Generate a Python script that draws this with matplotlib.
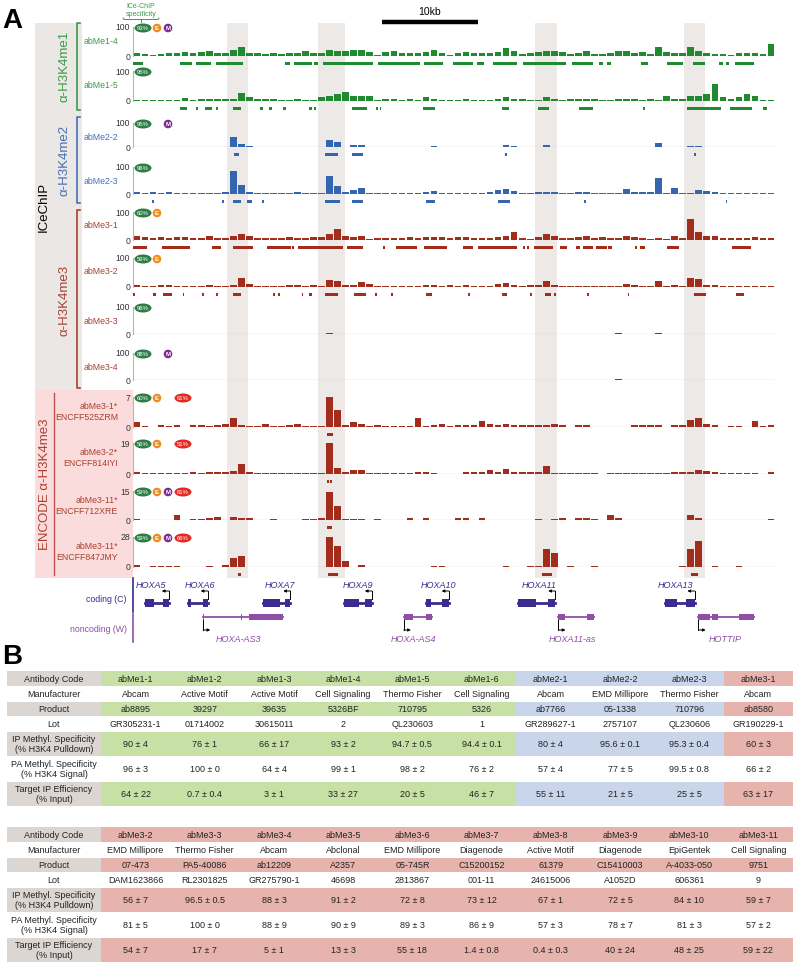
import numpy as np
import matplotlib
matplotlib.use('Agg')
import matplotlib.pyplot as plt
from matplotlib.patches import Rectangle, Ellipse, Circle

plt.rcParams['font.family'] = ['Liberation Sans', 'DejaVu Sans']

# ----------------------------------------------------------------- DATA
REGION_KB = 66.875          # width of the HOXA window shown (kb)
N_BINS = 80                 # signal bins across the window

track_names = ['abMe1-4', 'abMe1-5', 'abMe2-2', 'abMe2-3', 'abMe3-1', 'abMe3-2',
               'abMe3-3', 'abMe3-4', 'abMe3-1*\nENCFF525ZRM', 'abMe3-2*\nENCFF814IYI',
               'abMe3-11*\nENCFF712XRE', 'abMe3-11*\nENCFF847JMY']
track_max = [100, 100, 100, 100, 100, 100, 100, 100, 7, 19, 15, 28]
badge_spec = ['93%', '95%', '95%', '96%', '60%', '56%', '96%', '88%', '60%', '56%', '59%', '59%']
badge_E = [1, 0, 0, 0, 1, 1, 0, 0, 1, 1, 1, 1]
badge_M = [1, 0, 1, 0, 0, 0, 0, 1, 0, 0, 1, 1]
badge_enc = [None] * 8 + ['61%', '51%', '61%', '66%']

sig_abMe1_4 = [10, 8, 5, 8, 10, 12, 14, 10, 14, 16,
               12, 12, 22, 30, 12, 10, 8, 10, 8, 10,
               12, 16, 12, 12, 20, 18, 16, 20, 22, 14,
               4, 14, 16, 12, 10, 12, 14, 20, 10, 4,
               12, 14, 10, 12, 10, 14, 26, 18, 6, 10,
               14, 16, 18, 14, 8, 12, 18, 8, 8, 10,
               16, 18, 12, 14, 8, 30, 14, 12, 10, 30,
               16, 10, 6, 8, 4, 10, 10, 10, 8, 42]
sig_abMe1_5 = [4, 4, 4, 3, 3, 4, 10, 2, 6, 8,
               8, 6, 8, 28, 12, 6, 5, 6, 4, 3,
               6, 4, 3, 12, 16, 22, 30, 18, 18, 16,
               3, 6, 8, 4, 8, 4, 12, 8, 4, 4,
               3, 6, 3, 3, 4, 6, 12, 8, 8, 4,
               4, 14, 6, 3, 6, 6, 6, 6, 4, 4,
               6, 8, 6, 3, 6, 3, 16, 8, 6, 18,
               18, 22, 55, 14, 6, 12, 22, 16, 3, 4]
sig_abMe2_2 = [2, 2, 0, 0, 0, 0, 0, 0, 0, 0,
               0, 0, 40, 12, 3, 0, 0, 0, 0, 0,
               0, 0, 0, 0, 30, 22, 0, 8, 8, 0,
               0, 2, 0, 0, 0, 0, 0, 5, 0, 0,
               0, 2, 0, 0, 0, 0, 8, 4, 0, 2,
               0, 10, 0, 0, 0, 0, 2, 0, 0, 0,
               0, 2, 2, 0, 0, 18, 0, 2, 0, 6,
               4, 2, 2, 0, 0, 0, 0, 0, 0, 0]
sig_abMe2_3 = [6, 4, 6, 2, 8, 4, 4, 4, 4, 4,
               4, 8, 85, 35, 8, 4, 4, 3, 4, 4,
               6, 4, 3, 4, 68, 30, 6, 14, 22, 4,
               4, 4, 3, 4, 4, 4, 8, 12, 4, 4,
               3, 3, 4, 4, 6, 14, 20, 10, 4, 3,
               6, 8, 6, 4, 2, 6, 6, 4, 3, 2,
               4, 18, 6, 6, 6, 60, 4, 22, 4, 3,
               14, 10, 6, 4, 3, 3, 3, 3, 3, 3]
sig_abMe3_1 = [14, 10, 8, 10, 8, 10, 10, 8, 6, 14,
               6, 8, 16, 22, 14, 6, 6, 8, 8, 10,
               8, 8, 10, 10, 22, 38, 16, 12, 14, 4,
               6, 6, 8, 8, 10, 8, 10, 12, 10, 8,
               10, 10, 8, 8, 8, 12, 14, 30, 6, 4,
               10, 20, 16, 8, 6, 10, 16, 6, 12, 8,
               8, 14, 10, 6, 4, 6, 4, 14, 6, 76,
               30, 16, 14, 8, 6, 8, 8, 10, 6, 8]
sig_abMe3_2 = [6, 4, 4, 8, 6, 4, 2, 4, 4, 8,
               4, 4, 8, 30, 10, 4, 4, 4, 4, 6,
               6, 4, 6, 4, 24, 20, 6, 8, 18, 10,
               4, 4, 4, 4, 3, 4, 8, 8, 4, 8,
               4, 6, 3, 2, 4, 10, 14, 8, 4, 6,
               6, 22, 8, 4, 4, 4, 4, 4, 4, 4,
               4, 10, 8, 4, 4, 20, 4, 8, 4, 32,
               26, 8, 6, 4, 4, 4, 4, 4, 4, 4]
sig_abMe3_3 = [0, 0, 0, 0, 0, 0, 0, 0, 0, 0,
               0, 0, 0, 0, 0, 0, 0, 0, 0, 0,
               0, 0, 0, 0, 3, 0, 0, 0, 0, 0,
               0, 0, 0, 0, 0, 0, 0, 0, 0, 0,
               0, 0, 0, 0, 0, 0, 0, 0, 0, 0,
               0, 0, 0, 0, 0, 0, 0, 0, 0, 0,
               2, 0, 0, 0, 0, 2, 0, 0, 0, 0,
               0, 0, 0, 0, 0, 0, 0, 0, 0, 0]
sig_abMe3_4 = [0, 0, 0, 0, 0, 0, 0, 0, 0, 0,
               0, 0, 0, 0, 0, 0, 0, 0, 0, 0,
               0, 0, 0, 0, 0, 0, 0, 0, 0, 0,
               0, 0, 0, 0, 0, 0, 0, 0, 0, 0,
               0, 0, 0, 0, 0, 0, 0, 0, 0, 0,
               0, 0, 0, 0, 0, 0, 0, 0, 0, 0,
               2, 0, 0, 0, 0, 0, 0, 0, 0, 0,
               0, 0, 0, 0, 0, 0, 0, 0, 0, 0]
sig_ENCFF525ZRM = [1.2, 0.3, 0, 0.4, 0.3, 0.4, 0, 0.4, 0.4, 0.3,
                   0.4, 0.6, 2.0, 0.4, 0.3, 0.3, 0.7, 0.3, 0.3, 0.4,
                   0.7, 0.3, 0.3, 0.3, 7.0, 3.9, 0.4, 1.1, 0.7, 0.3,
                   0.4, 0.3, 0.3, 0.3, 0.3, 2.0, 0.3, 0.4, 0.8, 0.3,
                   0.4, 0.4, 0.4, 1.4, 0.7, 0.4, 0.6, 0.4, 0.4, 0.4,
                   0.4, 0.4, 0.6, 0.4, 0, 0.4, 0.4, 0, 0, 0,
                   0.1, 0, 0.4, 0.4, 0.4, 0.4, 0, 0.4, 0.4, 1.6,
                   2.0, 0.7, 0.4, 0, 0.3, 0.3, 0, 1.3, 0.3, 0.4]
sig_ENCFF814IYI = [1.5, 0.8, 0.8, 0.8, 0.4, 0.8, 0.8, 1.1, 0.8, 1.1,
                   1.1, 1.1, 1.9, 6.1, 1.5, 0.8, 0.8, 0.8, 0.4, 0.8,
                   0.8, 0.8, 0.4, 0.8, 19.0, 3.4, 1.5, 2.3, 2.7, 0.8,
                   0.8, 0.8, 0.8, 0.8, 0.8, 1.1, 1.1, 0.8, 0, 0,
                   0, 1.1, 1.1, 1.1, 2.3, 1.5, 3.0, 1.1, 1.1, 1.1,
                   1.1, 4.6, 0.8, 0.8, 0.8, 0.8, 0.8, 0.8, 0, 0.8,
                   0.8, 0.8, 0.8, 0.8, 0.8, 0.8, 0.8, 1.1, 1.1, 1.1,
                   2.3, 1.9, 1.5, 0.8, 0.8, 0.8, 0.8, 0.8, 0, 1.1]
sig_ENCFF712XRE = [0.3, 0, 0, 0, 0, 2.4, 0, 0.6, 0.3, 0.9,
                   1.8, 0, 1.5, 0.9, 0.9, 0, 0, 0.6, 0, 0,
                   0, 0.6, 0.6, 1.2, 14.3, 7.2, 0.3, 0.6, 0.6, 0,
                   0.6, 0, 0, 0, 0.9, 0, 0.9, 0, 0, 0,
                   1.2, 1.2, 0, 1.2, 0, 0, 0, 0, 0, 0,
                   0.6, 0, 0.6, 0.9, 0, 0.9, 0.9, 0.6, 0, 2.7,
                   0.9, 0, 0, 0, 0, 0, 0, 0, 0, 2.4,
                   1.2, 0, 0, 0, 0, 0, 0, 0, 0, 0.6]
sig_ENCFF847JMY = [1.4, 0, 1.1, 1.1, 1.1, 1.1, 0, 0, 0, 1.1,
                   0, 2.2, 8.4, 9.8, 0, 0, 0, 0, 0, 0,
                   0, 0, 0, 0, 28.0, 19.6, 5.6, 0, 2.2, 0,
                   0, 0, 0, 0, 0, 0, 0, 1.1, 1.1, 0,
                   0, 0, 0, 0, 0, 0, 1.1, 0, 0, 1.1,
                   1.1, 16.8, 12.6, 0, 1.1, 0, 0, 1.1, 0, 0,
                   0, 0, 0, 0, 0, 0, 0, 0, 1.1, 16.8,
                   23.8, 0, 1.1, 0, 0, 1.1, 0, 0, 0, 0]

# called peaks (start kb, end kb)
peaks_abMe1_4 = [(0.0, 1.0), (4.9, 6.1), (6.6, 8.1), (8.6, 11.5), (15.8, 16.4), (16.8, 18.6),
                 (18.9, 19.3), (19.8, 25.0), (25.5, 29.9), (30.3, 32.3), (33.3, 35.4), (35.8, 36.6),
                 (37.5, 40.0), (40.6, 45.1), (45.7, 47.9), (48.5, 49.0), (49.4, 49.8), (52.9, 53.6),
                 (55.6, 57.3), (58.3, 59.6), (61.0, 61.5), (61.8, 62.1), (62.7, 64.7)]
peaks_abMe1_5 = [(4.9, 5.6), (6.6, 6.8), (7.5, 8.2), (8.6, 8.9), (10.4, 11.3), (13.2, 13.5),
                 (14.2, 14.5), (15.6, 15.9), (18.3, 18.6), (18.9, 19.1), (22.8, 24.4), (25.3, 25.5),
                 (25.7, 25.8), (30.2, 31.5), (38.4, 39.2), (42.2, 43.3), (46.5, 47.9), (53.1, 53.3),
                 (57.7, 61.2), (62.2, 64.5), (65.6, 66.0)]
peaks_abMe2_2 = [(10.5, 11.0), (20.0, 21.4), (22.8, 24.0), (38.8, 39.0), (58.4, 58.6)]
peaks_abMe2_3 = [(2.0, 2.2), (9.3, 9.5), (10.4, 11.3), (11.9, 12.4), (13.4, 13.6), (20.0, 21.6),
                 (22.8, 24.0), (30.5, 31.5), (38.0, 39.3), (47.0, 47.2), (61.8, 61.9)]
peaks_abMe3_1 = [(0.0, 1.5), (3.0, 5.9), (8.2, 9.2), (10.4, 12.5), (14.0, 16.5), (16.6, 16.8),
                 (17.2, 21.9), (22.3, 24.0), (26.0, 26.3), (27.4, 29.6), (30.3, 32.7), (34.4, 35.4),
                 (35.9, 40.0), (40.6, 40.8), (41.0, 41.3), (41.8, 43.8), (44.5, 45.2), (46.1, 46.6),
                 (46.9, 47.9), (48.2, 49.4), (49.5, 49.9), (52.3, 52.5), (52.8, 53.3), (55.6, 56.9),
                 (62.4, 64.4)]
peaks_abMe3_2 = [(0.0, 0.2), (2.1, 2.4), (3.1, 4.1), (5.2, 5.3), (7.2, 7.4), (8.6, 8.9),
                 (10.4, 11.3), (14.6, 14.8), (15.1, 15.3), (17.6, 17.7), (18.3, 18.6), (20.0, 21.4),
                 (23.0, 24.3), (25.2, 25.4), (26.9, 27.1), (30.5, 31.1), (34.9, 35.1), (38.4, 39.0),
                 (41.4, 41.6), (42.9, 43.5), (43.9, 44.1), (47.3, 47.5), (51.6, 51.7), (58.4, 59.7),
                 (62.8, 63.6)]
peaks_abMe3_3 = []
peaks_abMe3_4 = []
peaks_ENCFF525ZRM = [(20.2, 20.8)]
peaks_ENCFF814IYI = [(20.2, 20.4), (20.5, 20.7)]
peaks_ENCFF712XRE = [(20.2, 20.7)]
peaks_ENCFF847JMY = [(10.9, 11.2), (20.3, 21.4), (42.6, 43.6), (58.1, 58.9)]

highlight_regions = [(9.8, 12.0), (19.3, 22.1), (41.9, 44.2), (57.4, 59.6)]
scale_bar_start_kb = 25.9
scale_bar_len_kb = 10

coding_names = ['HOXA5', 'HOXA6', 'HOXA7', 'HOXA9', 'HOXA10', 'HOXA11', 'HOXA13']
coding_exons = [[(1.2, 2.2), (3.1, 3.75)], [(5.7, 6.0), (7.3, 7.8)], [(13.5, 15.3), (15.8, 16.4)],
                [(22.0, 23.5), (24.2, 24.9)], [(30.5, 31.0), (32.2, 32.9)],
                [(40.1, 42.0), (43.2, 44.0)], [(55.4, 56.7), (57.6, 58.5)]]
coding_label_kb = [1.9, 7.0, 15.3, 23.4, 31.8, 42.3, 56.5]
noncoding_names = ['HOXA-AS3', 'HOXA-AS4', 'HOXA11-as', 'HOTTIP']
noncoding_exons = [[(7.3, 7.4), (11.3, 11.4), (12.1, 15.6)], [(28.2, 29.2), (30.5, 31.1)],
                   [(44.3, 45.0), (47.3, 48.0)], [(58.9, 60.1), (60.3, 60.9), (63.1, 64.7)]]
noncoding_label_kb = [11.0, 29.2, 45.8, 61.7]

row_labels = ['Antibody Code', 'Manufacturer', 'Product', 'Lot',
              'IP Methyl. Specificity\n(% H3K4 Pulldown)',
              'PA Methyl. Specificity\n(% H3K4 Signal)',
              'Target IP Efficiency\n(% Input)']
codes1 = ['abMe1-1', 'abMe1-2', 'abMe1-3', 'abMe1-4', 'abMe1-5', 'abMe1-6',
          'abMe2-1', 'abMe2-2', 'abMe2-3', 'abMe3-1']
manuf1 = ['Abcam', 'Active Motif', 'Active Motif', 'Cell Signaling', 'Thermo Fisher',
          'Cell Signaling', 'Abcam', 'EMD Millipore', 'Thermo Fisher', 'Abcam']
product1 = ['ab8895', '39297', '39635', '5326BF', '710795', '5326', 'ab7766', '05-1338',
            '710796', 'ab8580']
lot1 = ['GR305231-1', '01714002', '30615011', '2', 'QL230603', '1', 'GR289627-1', '2757107',
        'QL230606', 'GR190229-1']
ip1 = ['90 ± 4', '76 ± 1', '66 ± 17', '93 ± 2', '94.7 ± 0.5', '94.4 ± 0.1', '80 ± 4',
       '95.6 ± 0.1', '95.3 ± 0.4', '60 ± 3']
pa1 = ['96 ± 3', '100 ± 0', '64 ± 4', '99 ± 1', '98 ± 2', '76 ± 2', '57 ± 4', '77 ± 5',
       '99.5 ± 0.8', '66 ± 2']
eff1 = ['64 ± 22', '0.7 ± 0.4', '3 ± 1', '33 ± 27', '20 ± 5', '46 ± 7', '55 ± 11', '21 ± 5',
        '25 ± 5', '63 ± 17']
codes2 = ['abMe3-2', 'abMe3-3', 'abMe3-4', 'abMe3-5', 'abMe3-6', 'abMe3-7', 'abMe3-8',
          'abMe3-9', 'abMe3-10', 'abMe3-11']
manuf2 = ['EMD Millipore', 'Thermo Fisher', 'Abcam', 'Abclonal', 'EMD Millipore', 'Diagenode',
          'Active Motif', 'Diagenode', 'EpiGentek', 'Cell Signaling']
product2 = ['07-473', 'PA5-40086', 'ab12209', 'A2357', '05-745R', 'C15200152', '61379',
            'C15410003', 'A-4033-050', '9751']
lot2 = ['DAM1623866', 'RL2301825', 'GR275790-1', '46698', '2813867', '001-11', '24615006',
        'A1052D', '606361', '9']
ip2 = ['56 ± 7', '96.5 ± 0.5', '88 ± 3', '91 ± 2', '72 ± 8', '73 ± 12', '67 ± 1', '72 ± 5',
       '84 ± 10', '59 ± 7']
pa2 = ['81 ± 5', '100 ± 0', '88 ± 9', '90 ± 9', '89 ± 3', '86 ± 9', '57 ± 3', '78 ± 7',
       '81 ± 3', '57 ± 2']
eff2 = ['54 ± 7', '17 ± 7', '5 ± 1', '13 ± 3', '55 ± 18', '1.4 ± 0.8', '0.4 ± 0.3', '40 ± 24',
        '48 ± 25', '59 ± 22']
mark1 = ['me1'] * 6 + ['me2'] * 3 + ['me3']
mark2 = ['me3'] * 10

# ----------------------------------------------------------------- STYLE / LAYOUT
W, H = 800, 971
X0, X1 = 133, 775
GREEN, BLUE, RED = '#1f8a2f', '#3466b0', '#a32d1c'
LGREEN, LBLUE, LRED = '#3a9a48', '#4470b6', '#aa4030'
CODING, NONCODING = '#3b2c8f', '#8d4fa8'
HILITE = '#ece9e7'
CELL = {'me1': '#c6e0a6', 'me2': '#c9d5eb', 'me3': '#e6b4ad'}
GRAYCELL = '#dcd6d3'

track_rows = [(27, 56), (71, 101), (123, 147), (167, 194), (212, 240), (258, 287),
              (307, 334), (353, 380), (397, 427), (443, 474), (491, 520), (537, 567)]
track_colors = [GREEN, GREEN, BLUE, BLUE, RED, RED, RED, RED, RED, RED, RED, RED]
label_colors = [LGREEN, LGREEN, LBLUE, LBLUE, LRED, LRED, LRED, LRED, LRED, LRED, LRED, LRED]

signals = [sig_abMe1_4, sig_abMe1_5, sig_abMe2_2, sig_abMe2_3, sig_abMe3_1, sig_abMe3_2,
           sig_abMe3_3, sig_abMe3_4, sig_ENCFF525ZRM, sig_ENCFF814IYI, sig_ENCFF712XRE,
           sig_ENCFF847JMY]
peaks = [peaks_abMe1_4, peaks_abMe1_5, peaks_abMe2_2, peaks_abMe2_3, peaks_abMe3_1,
         peaks_abMe3_2, peaks_abMe3_3, peaks_abMe3_4, peaks_ENCFF525ZRM, peaks_ENCFF814IYI,
         peaks_ENCFF712XRE, peaks_ENCFF847JMY]

fig = plt.figure(figsize=(W / 100, H / 100), dpi=100)


def px_axes(z):
    ax = fig.add_axes([0, 0, 1, 1], zorder=z)
    ax.set_xlim(0, W)
    ax.set_ylim(H, 0)
    ax.axis('off')
    ax.patch.set_alpha(0)
    return ax


ax_px = px_axes(0)

# genome-coordinate axes (x in kb, y in pixels)
ax_gen = fig.add_axes([X0 / W, 0, (X1 - X0) / W, 1], zorder=1)
ax_gen.set_xlim(0, REGION_KB)
ax_gen.set_ylim(H, 0)
ax_gen.axis('off')
ax_gen.patch.set_alpha(0)

ax_top = px_axes(3)

# ---- panel labels
ax_px.text(2, 21, 'A', fontsize=20, fontweight='bold', va='center', ha='left')
ax_px.text(2, 657, 'B', fontsize=20, fontweight='bold', va='center', ha='left')

# ---- left side boxes
ax_px.add_patch(Rectangle((35, 23), 47, 367, fc='#ebe7e5', ec='none'))
ax_px.add_patch(Rectangle((35, 390), X0 - 35, 188, fc='#fbdcdc', ec='none'))
ax_px.plot([54, 54], [393, 575], color='#c0504d', lw=1)
ax_px.text(44, 207, 'ICeChIP', rotation=90, fontsize=9.5, ha='center', va='center', color='black')
ax_px.text(45, 484, 'ENCODE α-H3K4me3', rotation=90, fontsize=9.5, ha='center', va='center',
           color=LRED)
for (y0, y1, col, name, yc) in [(23, 110, LGREEN, 'α-H3K4me1', 66),
                                (117, 203, LBLUE, 'α-H3K4me2', 160),
                                (210, 388, LRED, 'α-H3K4me3', 300)]:
    ax_px.plot([80, 77, 77, 80], [y0, y0, y1, y1], color=col, lw=1.2)
    ax_px.text(65, yc, name, rotation=90, fontsize=9.5, ha='center', va='center', color=col)

# ---- highlights and scale bar
for s, e in highlight_regions:
    ax_gen.add_patch(Rectangle((s, 23), e - s, 555, fc=HILITE, ec='none', zorder=0))
ax_gen.plot([scale_bar_start_kb, scale_bar_start_kb + scale_bar_len_kb], [22.5, 22.5],
            color='black', lw=3.2, solid_capstyle='butt')
ax_gen.text(scale_bar_start_kb + scale_bar_len_kb / 2, 12, '10kb', fontsize=7.5,
            ha='center', va='center')

# ---- tracks
BIN_KB = REGION_KB / N_BINS
centers = (np.arange(N_BINS) + 0.5) * BIN_KB
for i, ((yt, yb), vals, pk, ymax, col) in enumerate(
        zip(track_rows, signals, peaks, track_max, track_colors)):
    ax = fig.add_axes([X0 / W, 1 - yb / H, (X1 - X0) / W, (yb - yt) / H], zorder=2)
    ax.patch.set_alpha(0)
    ax.axhline(0, color='#c4c4c4', lw=0.9, zorder=0)
    ax.bar(centers, vals, width=BIN_KB * 0.82, color=col, linewidth=0, zorder=1)
    ax.set_xlim(0, REGION_KB)
    ax.set_ylim(0, ymax)
    for s in ['top', 'right', 'bottom']:
        ax.spines[s].set_visible(False)
    ax.spines['left'].set_color('#b5b5b5')
    ax.spines['left'].set_linewidth(0.8)
    ax.set_xticks([])
    ax.set_yticks([0, ymax])
    ax.set_yticklabels(['0', str(ymax)])
    ax.tick_params(axis='y', length=0, labelsize=6.2, pad=2, labelcolor='#333333')
    u = ymax / (yb - yt)
    if pk:
        ax.broken_barh([(s, e - s) for s, e in pk], (-8.8 * u, 3.2 * u), facecolors=col,
                       clip_on=False)

    # track name
    name = track_names[i]
    if '\n' in name:
        ax_px.text(118, yt + 15, name, fontsize=6.3, ha='right', va='center',
                   color=label_colors[i], linespacing=1.35)
    else:
        ax_px.text(84, yt + 14, name, fontsize=6.3, ha='left', va='center',
                   color=label_colors[i])

    # badges
    yc = yt + 1
    ax_top.add_patch(Ellipse((143, yc), 17, 9, fc='#2e7d46', ec='none'))
    ax_top.text(143, yc + 0.3, badge_spec[i], fontsize=4.3, color='white', ha='center',
                va='center')
    if badge_E[i]:
        ax_top.add_patch(Circle((157, yc), 4.3, fc='#f08c1e', ec='none'))
        ax_top.text(157, yc + 0.3, 'E', fontsize=4.3, color='white', ha='center', va='center',
                    fontweight='bold')
    if badge_M[i]:
        ax_top.add_patch(Circle((168, yc), 4.3, fc='#7a2d8c', ec='none'))
        ax_top.text(168, yc + 0.3, 'M', fontsize=4.3, color='white', ha='center', va='center',
                    fontweight='bold')
    if badge_enc[i]:
        ax_top.add_patch(Ellipse((183, yc), 17, 9, fc='#e42a23', ec='none'))
        ax_top.text(183, yc + 0.3, badge_enc[i], fontsize=4.3, color='white', ha='center',
                    va='center')

# ICe-ChIP specificity annotation
ax_top.text(141, 6, 'ICe-ChIP', fontsize=5, color=LGREEN, ha='center', va='center')
ax_top.text(141, 14, 'specificity', fontsize=5, color=LGREEN, ha='center', va='center')
ax_top.plot([123, 124, 158, 159], [18, 19.5, 19.5, 18], color=LGREEN, lw=0.7)
ax_top.plot([141, 141], [19.5, 22], color=LGREEN, lw=0.7)

# ---- gene annotations
ax_px.plot([X0, X0], [578, 612], color=CODING, lw=1.2)
ax_px.plot([X0, X0], [614, 642], color=NONCODING, lw=1.2)
ax_px.text(127, 600, 'coding (C)', fontsize=6.3, color=CODING, ha='right', va='center')
ax_px.text(127, 630, 'noncoding (W)', fontsize=6.3, color=NONCODING, ha='right', va='center')

Y_COD, Y_NC = 603, 617
for name, exons, lx in zip(coding_names, coding_exons, coding_label_kb):
    s0, e1 = exons[0][0], exons[-1][1]
    ax_gen.plot([s0, e1], [Y_COD, Y_COD], color=CODING, lw=2)
    for s, e in exons:
        ax_gen.add_patch(Rectangle((s, Y_COD - 4), e - s, 8, fc=CODING, ec='none'))
    tss = e1
    ax_gen.plot([tss, tss], [Y_COD - 4, 591], color='black', lw=0.7)
    ax_gen.annotate('', xy=(tss - 0.75, 591), xytext=(tss, 591),
                    arrowprops=dict(arrowstyle='-|>', color='black', lw=0.7,
                                    mutation_scale=4, shrinkA=0, shrinkB=0))
    ax_gen.text(lx, 585, name, fontsize=6.5, style='italic', color=CODING,
                ha='center', va='center')
for name, exons, lx in zip(noncoding_names, noncoding_exons, noncoding_label_kb):
    s0, e1 = exons[0][0], exons[-1][1]
    ax_gen.plot([s0, e1], [Y_NC, Y_NC], color=NONCODING, lw=1.3)
    for s, e in exons:
        ax_gen.add_patch(Rectangle((s, Y_NC - 3), e - s, 6, fc=NONCODING, ec='none'))
    tss = s0
    ax_gen.plot([tss, tss], [Y_NC + 3, 630], color='black', lw=0.7)
    ax_gen.annotate('', xy=(tss + 0.75, 630), xytext=(tss, 630),
                    arrowprops=dict(arrowstyle='-|>', color='black', lw=0.7,
                                    mutation_scale=4, shrinkA=0, shrinkB=0))
    ax_gen.text(lx, 639, name, fontsize=6.5, style='italic', color=NONCODING,
                ha='center', va='center')

# ---- tables
ROW_H = [16, 15, 15, 15, 25, 25, 25]
COLORED = [True, False, True, False, True, False, True]
LAB_X0, LAB_W = 7, 94
COL_W = 69.2


def draw_table(ytop, rows, marks):
    y = ytop
    for r, (lab, vals) in enumerate(zip(row_labels, rows)):
        h = ROW_H[r]
        if COLORED[r]:
            ax_px.add_patch(Rectangle((LAB_X0, y), LAB_W, h - 0.6, fc=GRAYCELL, ec='none'))
        ax_px.text(LAB_X0 + LAB_W / 2, y + h / 2, lab, fontsize=6.5, ha='center',
                   va='center', color='#222222', linespacing=1.2)
        for j, v in enumerate(vals):
            x = LAB_X0 + LAB_W + j * COL_W
            if COLORED[r]:
                ax_px.add_patch(Rectangle((x, y), COL_W, h - 0.6, fc=CELL[marks[j]],
                                          ec='none'))
            ax_px.text(x + COL_W / 2, y + h / 2, v, fontsize=6.5, ha='center', va='center',
                       color='#222222')
        y += h


draw_table(671, [codes1, manuf1, product1, lot1, ip1, pa1, eff1], mark1)
draw_table(827, [codes2, manuf2, product2, lot2, ip2, pa2, eff2], mark2)

fig.savefig('out.png', dpi=100)
